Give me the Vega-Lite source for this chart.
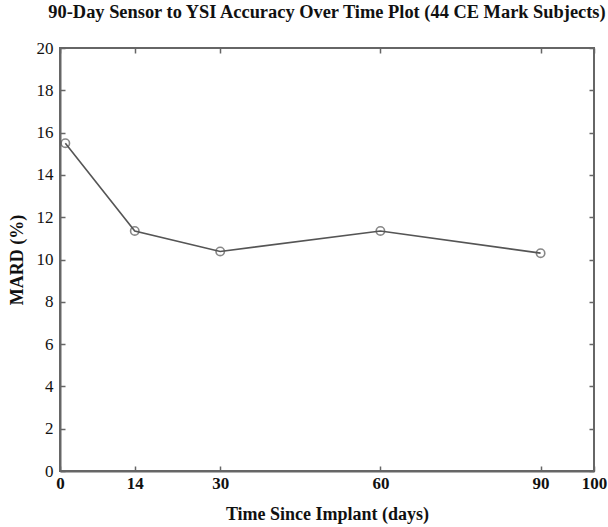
{
  "$schema": "https://vega.github.io/schema/vega-lite/v6.json",
  "width": 534,
  "height": 423,
  "autosize": "none",
  "padding": {"left": 60, "top": 48, "right": 14, "bottom": 56},
  "background": "white",
  "title": {
    "text": "90-Day Sensor to YSI Accuracy Over Time Plot (44 CE Mark Subjects)",
    "font": "Liberation Serif",
    "fontSize": 18.4,
    "fontWeight": "bold",
    "color": "#111",
    "anchor": "middle",
    "offset": 18
  },
  "data": {
    "values": [
      {"day": 1, "mard": 15.5},
      {"day": 14, "mard": 11.35},
      {"day": 30, "mard": 10.38},
      {"day": 60, "mard": 11.35},
      {"day": 90, "mard": 10.3}
    ]
  },
  "config": {
    "view": {"stroke": "#666", "strokeWidth": 2},
    "axis": {
      "grid": false,
      "labelFont": "Liberation Serif",
      "labelFontSize": 17,
      "labelColor": "#111",
      "titleFont": "Liberation Serif",
      "titleFontSize": 18,
      "titleFontWeight": "bold",
      "titleColor": "#111",
      "domainColor": "#666",
      "domainWidth": 2,
      "tickColor": "#666",
      "tickWidth": 1.5
    }
  },
  "resolve": {"axis": {"x": "independent", "y": "independent"}},
  "layer": [
    {
      "mark": {"type": "line", "color": "#555", "strokeWidth": 1.6},
      "encoding": {
        "x": {
          "field": "day", "type": "quantitative",
          "scale": {"domain": [0, 100], "nice": false},
          "axis": {"values": [0, 14, 30, 60, 90, 100], "title": "Time Since Implant (days)", "tickSize": -5, "labelPadding": 9, "titlePadding": 14, "labelFlush": false, "labelFontWeight": "bold"}
        },
        "y": {
          "field": "mard", "type": "quantitative",
          "scale": {"domain": [0, 20], "nice": false},
          "axis": {"values": [0, 2, 4, 6, 8, 10, 12, 14, 16, 18, 20], "title": "MARD (%)", "tickSize": -5, "labelPadding": 12, "titlePadding": 10, "labelFlush": false}
        }
      }
    },
    {
      "mark": {"type": "point", "shape": "circle", "filled": false, "color": "#555", "strokeWidth": 1.6, "size": 70},
      "encoding": {
        "x": {
          "field": "day", "type": "quantitative",
          "axis": {"orient": "top", "values": [0, 14, 30, 60, 90, 100], "labels": false, "title": null, "tickSize": -5, "domain": false}
        },
        "y": {
          "field": "mard", "type": "quantitative",
          "axis": {"orient": "right", "values": [0, 2, 4, 6, 8, 10, 12, 14, 16, 18, 20], "labels": false, "title": null, "tickSize": -5, "domain": false}
        }
      }
    }
  ]
}
